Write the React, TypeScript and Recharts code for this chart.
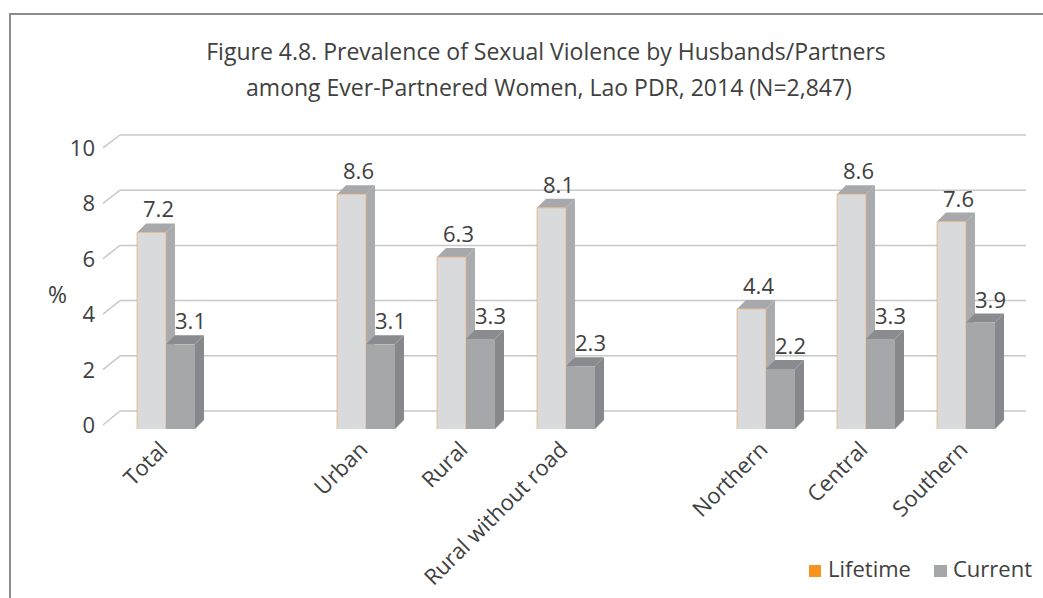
import React from 'react';
import { BarChart, Bar, XAxis, YAxis, CartesianGrid, LabelList } from 'recharts';

// blank entries keep the gaps between the groups
const categories = ['Total', ' ', 'Urban', 'Rural', 'Rural without road', '  ', 'Northern', 'Central', 'Southern'];
const lifetime = [7.2, null, 8.6, 6.3, 8.1, null, 4.4, 8.6, 7.6];
const current = [3.1, null, 3.1, 3.3, 2.3, null, 2.2, 3.3, 3.9];
const yTicks = [0, 2, 4, 6, 8, 10];

const data = categories.map((name, i) => ({ name, lifetime: lifetime[i], current: current[i] }));

const FONT = '"Open Sans", "Noto Sans", sans-serif';
const TEXT = '#404040';
const DEPTH = 9;

const W = 1043;
const H = 598;
const PLOT_TOP = 156;
const PLOT_BOTTOM = 429;
const PLOT_LEFT = 116;
const PLOT_RIGHT = 1016;

// the floor sits behind the bars: map a front y to the back wall
const backY = (y: number) => 411 - (PLOT_BOTTOM - y) * 1.011;
const frontTickY = (y: number) => 425 - (PLOT_BOTTOM - y) * 1.015;

const make3D = (front: string, top: string, side: string, edge?: string) => (props: any) => {
  const { x, y, width, height } = props;
  if (height == null || height <= 0) return <g />;
  const d = DEPTH;
  return (
    <g>
      <polygon
        points={`${x + width},${y} ${x + width + d},${y - d} ${x + width + d},${y + height - d} ${x + width},${y + height}`}
        fill={side}
      />
      <polygon
        points={`${x},${y} ${x + d},${y - d} ${x + width + d},${y - d} ${x + width},${y}`}
        fill={top}
      />
      <rect x={x} y={y} width={width} height={height} fill={front} />
      {edge && (
        <path
          d={`M${x},${y + height} L${x},${y} L${x + width},${y} L${x + width},${y + height}`}
          stroke={edge}
          strokeWidth={0.8}
          fill="none"
        />
      )}
    </g>
  );
};

const GridLine = (props: any) => {
  const { y1, x1, x2 } = props;
  const by = backY(y1);
  return (
    <g>
      <line x1={103} y1={frontTickY(y1)} x2={x1 + 4} y2={by} stroke="#c8c8c8" strokeWidth={1.5} />
      <line x1={x1 + 4} y1={by} x2={x2 + 10} y2={by} stroke="#c8c8c8" strokeWidth={1.5} />
    </g>
  );
};

const YTick = (props: any) => {
  const { y, payload } = props;
  return (
    <text x={95} y={frontTickY(y) + 8} textAnchor="end" fontSize={22} fill={TEXT} fontFamily={FONT}>
      {payload.value}
    </text>
  );
};

const XTick = (props: any) => {
  const { x, payload } = props;
  if (!payload.value.trim()) return <g />;
  return (
    <text
      x={x + 3}
      y={451}
      textAnchor="end"
      fontSize={22}
      fill={TEXT}
      fontFamily={FONT}
      transform={`rotate(-45, ${x + 3}, 451)`}
    >
      {payload.value}
    </text>
  );
};

const makeLabel = (dx: number) => (props: any) => {
  const { x, y, width, value } = props;
  if (value == null) return null;
  return (
    <text x={x + width / 2 + dx} y={y - 15} textAnchor="middle" fontSize={22} fill={TEXT} fontFamily={FONT}>
      {value.toFixed(1)}
    </text>
  );
};

const App = () => {
  return (
    <div style={{ position: 'absolute', left: 0, top: 0, width: W, height: H, background: '#fff', fontFamily: FONT }}>
      <div style={{ position: 'absolute', left: 9, top: 13, width: W - 9, height: H - 13, borderLeft: '2px solid #8c8c8c', borderTop: '2px solid #8c8c8c' }} />
      <svg style={{ position: 'absolute', left: 0, top: 0 }} width={W} height={120}>
        <text x={546} y={60} textAnchor="middle" fontSize={23} fill={TEXT} fontFamily={FONT}>
          Figure 4.8. Prevalence of Sexual Violence by Husbands/Partners
        </text>
        <text x={549} y={96} textAnchor="middle" fontSize={23} fill={TEXT} fontFamily={FONT}>
          among Ever-Partnered Women, Lao PDR, 2014 (N=2,847)
        </text>
      </svg>
      <div style={{ position: 'absolute', left: 0, top: 0 }}>
        <BarChart
          width={W}
          height={H}
          data={data}
          margin={{ top: PLOT_TOP, bottom: H - PLOT_BOTTOM - 30, left: 0, right: W - PLOT_RIGHT }}
          barGap={0}
          barSize={29}
        >
          <CartesianGrid vertical={false} horizontal={(p: any) => <GridLine key={p.key} {...p} />} />
          <XAxis dataKey="name" height={30} axisLine={false} tickLine={false} interval={0} tick={<XTick />} />
          <YAxis
            width={PLOT_LEFT}
            domain={[0, 10]}
            ticks={yTicks}
            axisLine={false}
            tickLine={false}
            tick={<YTick />}
            label={{ value: '%', position: 'insideLeft', dx: 43, dy: 2, fontSize: 23, fill: TEXT, fontFamily: FONT }}
          />
          <Bar dataKey="lifetime" isAnimationActive={false} shape={make3D('#d9dadc', '#a7a8ab', '#aaabae', '#eab37a')}>
            <LabelList dataKey="lifetime" content={makeLabel(7)} />
          </Bar>
          <Bar dataKey="current" isAnimationActive={false} shape={make3D('#a6a7a9', '#8a8b8e', '#87888b')}>
            <LabelList dataKey="current" content={makeLabel(10)} />
          </Bar>
        </BarChart>
      </div>
      <svg style={{ position: 'absolute', left: 0, top: 540 }} width={W} height={58}>
        <rect x={809} y={25} width={12} height={12} fill="#f7941d" />
        <text x={828} y={37} fontSize={22} fill={TEXT} fontFamily={FONT}>Lifetime</text>
        <rect x={934} y={25} width={13} height={12} fill="#a5a6a8" />
        <text x={953} y={37} fontSize={22} fill={TEXT} fontFamily={FONT}>Current</text>
      </svg>
    </div>
  );
};

export default App;
